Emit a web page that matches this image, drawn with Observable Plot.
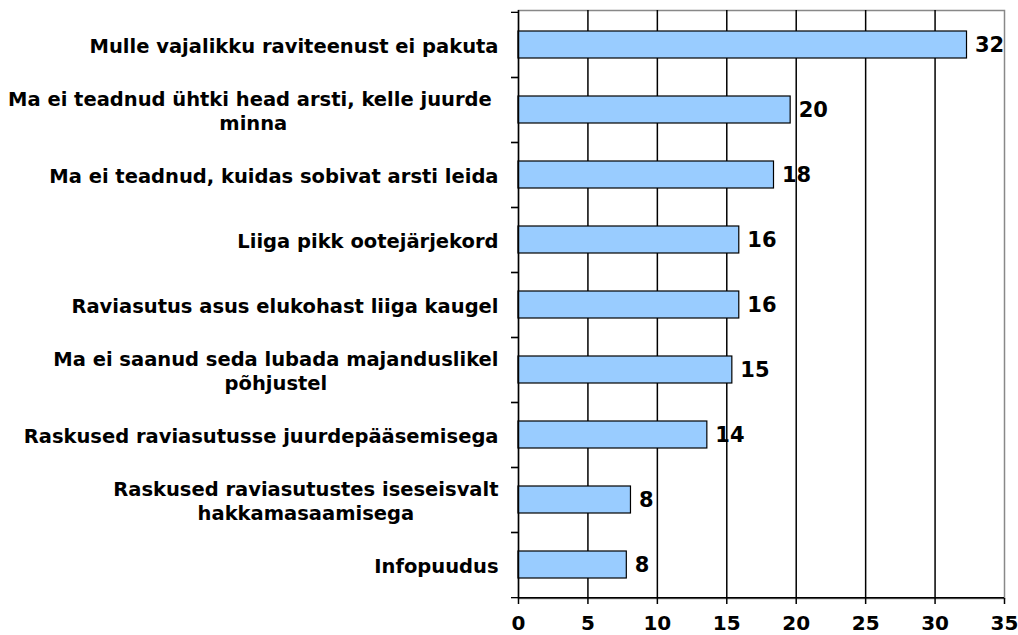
<!DOCTYPE html>
<html><head><meta charset="utf-8">
<script src="https://cdn.jsdelivr.net/npm/d3@7"></script>
<script src="https://cdn.jsdelivr.net/npm/@observablehq/plot@0.6"></script>
<style>body{margin:0;background:#fff} svg{overflow:visible}</style>
</head><body><div id="chart"></div>
<script>
const categories = [
  "Mulle vajalikku raviteenust ei pakuta",
  "Ma ei teadnud ühtki head arsti, kelle juurde \nminna",
  "Ma ei teadnud, kuidas sobivat arsti leida",
  "Liiga pikk ootejärjekord",
  "Raviasutus asus elukohast liiga kaugel",
  "Ma ei saanud seda lubada majanduslikel\npõhjustel",
  "Raskused raviasutusse juurdepääsemisega",
  "Raskused raviasutustes iseseisvalt\nhakkamasaamisega",
  "Infopuudus"
];
const values = [32.3, 19.6, 18.4, 15.9, 15.9, 15.4, 13.6, 8.1, 7.8];
const valueLabels = ["32", "20", "18", "16", "16", "15", "14", "8", "8"];
const xTicks = [0, 5, 10, 15, 20, 25, 30, 35];
const gridTicks = [5, 10, 15, 20, 25, 30];

const W = 1018, H = 635, mT = 10, mB = 37, mL = 518, mR = 14;
const step = (H - mT - mB) / categories.length;
const FONT = "Verdana, 'DejaVu Sans', sans-serif";
const LABEL_SIZE = 19.5;
const data = categories.map((c, i) => ({cat: c, value: values[i], label: valueLabels[i]}));

const ctx = document.createElement("canvas").getContext("2d");
ctx.font = "bold " + LABEL_SIZE + "px " + FONT;
const blockWidth = s => Math.max(...s.split("\n").map(l => ctx.measureText(l).width));

const labelMarks = categories.map(c => Plot.text([c], {
  y: d => d, text: d => d, frameAnchor: "left", textAnchor: "middle",
  dx: -20 - blockWidth(c) / 2, lineHeight: 1.24, fontSize: LABEL_SIZE, fill: "black"
}));

const chart = Plot.plot({
  width: W, height: H,
  marginTop: mT, marginBottom: mB, marginLeft: mL, marginRight: mR,
  style: {fontFamily: FONT, fontWeight: "bold", fontSize: "19px", color: "black", background: "white", overflow: "visible"},
  x: {domain: [0, 35]},
  y: {domain: categories, padding: 0},
  marks: [
    Plot.frame({stroke: "#888", strokeWidth: 1.5}),
    Plot.ruleX(gridTicks, {stroke: "black", strokeWidth: 1.5}),
    Plot.barX(data, {x: "value", y: "cat", fill: "#99CCFF", stroke: "black", strokeWidth: 1.2, insetTop: 19, insetBottom: 19}),
    Plot.ruleX([0], {stroke: "black", strokeWidth: 1.5}),
    Plot.ruleY([categories[categories.length - 1]], {dy: step / 2, stroke: "black", strokeWidth: 1.5}),
    Plot.axisY({tickSize: 7, tickFormat: () => "", label: null, dy: step / 2, strokeWidth: 1.3}),
    Plot.axisY({tickSize: 7, tickFormat: () => "", label: null, dy: -step / 2, strokeWidth: 1.3}),
    Plot.axisX({ticks: xTicks, tickSize: 6, tickPadding: 11, fontSize: 20, label: null, strokeWidth: 1.5}),
    Plot.text(data, {x: "value", y: "cat", text: "label", dx: 8, textAnchor: "start", fontSize: 21, fill: "black"}),
    ...labelMarks
  ]
});
document.getElementById("chart").appendChild(chart);
</script>
</body></html>
